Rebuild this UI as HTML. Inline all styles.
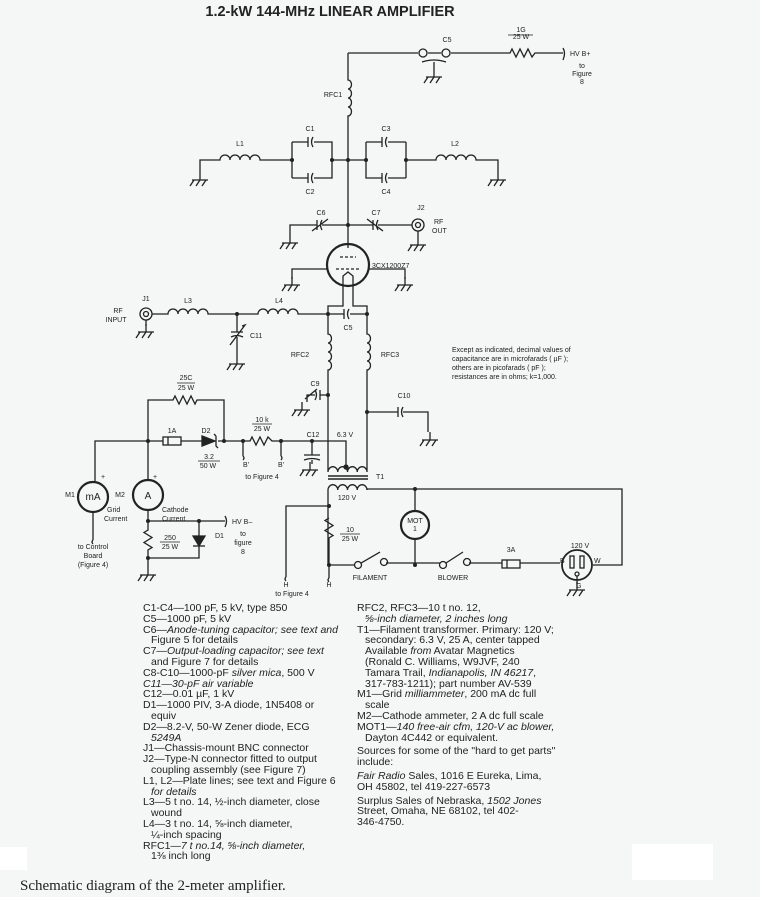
<!DOCTYPE html>
<html><head><meta charset="utf-8"><style>
html,body{margin:0;padding:0;background:#f5f6f6;}
body{width:760px;height:897px;position:relative;overflow:hidden;font-family:"Liberation Sans",sans-serif;}
svg{position:absolute;left:0;top:0}
.pl{position:absolute;font-size:10.5px;line-height:10.8px;color:#222;white-space:nowrap}
.pl div.i{padding-left:8px}
</style></head><body>
<div style="position:absolute;left:0;top:847px;width:27px;height:23px;background:#fff"></div>
<div style="position:absolute;left:632px;top:844px;width:81px;height:36px;background:#fff"></div>
<svg width="760" height="897" viewBox="0 0 760 897" font-family="Liberation Sans, sans-serif" fill="none" stroke="#222" stroke-width="1.3">
<defs>
<g id="gnd"><path d="M0 -8V0M-8 0H8M-6 0L-10 6M0 0L-4 6M6 0L2 6"/></g>
</defs>
<text x="330" y="16" text-anchor="middle" font-size="14.5" font-weight="bold" fill="#222" stroke="none">1.2-kW 144-MHz LINEAR AMPLIFIER</text>

<!-- top HV line -->
<path d="M348 53H418M428 53H441M451 53H510l2 -4l4 8l4 -8l4 8l4 -8l4 8l3 -4H563"/>
<circle cx="423" cy="53" r="4"/><circle cx="446" cy="53" r="4"/>
<path d="M422 62q12 -4 24 0M434 62V69"/>
<use href="#gnd" x="434" y="77"/>
<path d="M563 48q3 5 0 12"/>
<g fill="#222" stroke="none" font-size="7">
<text x="447" y="42" text-anchor="middle">C5</text>
<text x="521" y="32" text-anchor="middle">1G</text>
<text x="521" y="39" text-anchor="middle">25 W</text>
<text x="570" y="56">HV B+</text>
<text x="582" y="68" text-anchor="middle">to</text>
<text x="582" y="76" text-anchor="middle">Figure</text>
<text x="582" y="84" text-anchor="middle">8</text>
<text x="333" y="97" text-anchor="middle">RFC1</text>
</g>
<path d="M508 35H533" stroke-width="0.8"/>
<!-- RFC1 -->
<path d="M348 53V80a3.5 4.5 0 0 1 0 9a3.5 4.5 0 0 1 0 9a3.5 4.5 0 0 1 0 9a3.5 4.5 0 0 1 0 9V248"/>
<!-- L1/C1/C2 row -->
<path d="M200 172V160H220a5 5 0 0 1 10 0a5 5 0 0 1 10 0a5 5 0 0 1 10 0a5 5 0 0 1 10 0H292M292 142V178M406 142V178M292 142H308M314 142H332V178H314M308 178H292M366 142V178H382M388 178H406M366 142H382M388 142H406M332 160H366M406 160H436a5 5 0 0 1 10 0a5 5 0 0 1 10 0a5 5 0 0 1 10 0a5 5 0 0 1 10 0H498V172"/>
<path d="M308 137V147M313 137q-3 5 0 10M308 173V183M313 173q-3 5 0 10M382 137V147M387 137q-3 5 0 10M382 173V183M387 173q-3 5 0 10"/>
<use href="#gnd" x="200" y="180"/><use href="#gnd" x="498" y="180"/>
<g fill="#222" stroke="none"><circle cx="292" cy="160" r="2"/><circle cx="332" cy="160" r="2"/><circle cx="348" cy="160" r="2"/><circle cx="366" cy="160" r="2"/><circle cx="406" cy="160" r="2"/><circle cx="348" cy="225" r="2"/></g>
<g fill="#222" stroke="none" font-size="7">
<text x="240" y="146" text-anchor="middle">L1</text><text x="310" y="131" text-anchor="middle">C1</text><text x="310" y="194" text-anchor="middle">C2</text>
<text x="386" y="131" text-anchor="middle">C3</text><text x="386" y="194" text-anchor="middle">C4</text><text x="455" y="146" text-anchor="middle">L2</text>
<text x="321" y="215" text-anchor="middle">C6</text><text x="376" y="215" text-anchor="middle">C7</text><text x="421" y="210" text-anchor="middle">J2</text>
<text x="434" y="224">RF</text><text x="432" y="233">OUT</text>
<text x="372" y="268">3CX1200Z7</text>
</g>
<!-- C6 C7 -->
<path d="M290 235V225H317M322 225H373M378 225H412"/>
<path d="M317 220V230M322 220q-3 5 0 10M312 231L328 219M373 220V230M378 220q-3 5 0 10M367 219L383 231"/>
<use href="#gnd" x="290" y="243"/>
<circle cx="418" cy="225" r="6"/><circle cx="418" cy="225" r="2.5"/><path d="M418 231V237"/>
<use href="#gnd" x="418" y="245"/>
<!-- tube -->
<circle cx="348" cy="265" r="21" stroke-width="2.2"/>
<path d="M340 257H356M336 269H360" stroke-dasharray="3 2"/>
<path d="M292 279V269H327M369 269H405V279M343 286V276l5 -4l5 4V286"/>
<use href="#gnd" x="292" y="285"/><use href="#gnd" x="405" y="285"/>
<path d="M343 286V306H328V314M353 286V306H367V314"/>
<!-- input row -->
<circle cx="146" cy="314" r="6"/><circle cx="146" cy="314" r="2.5"/><path d="M146 320V326"/>
<use href="#gnd" x="146" y="332"/>
<path d="M152 314H168a5 5 0 0 1 10 0a5 5 0 0 1 10 0a5 5 0 0 1 10 0a5 5 0 0 1 10 0H258a5 5 0 0 1 10 0a5 5 0 0 1 10 0a5 5 0 0 1 10 0a5 5 0 0 1 10 0H344M350 314H367"/>
<path d="M344 309V319M349 309q-3 5 0 10"/>
<path d="M237 314V332M231 332H243M231 337q6 -3 12 0M237 337V356M230 345L245 325l-3 1"/>
<use href="#gnd" x="237" y="364"/>
<g fill="#222" stroke="none"><circle cx="237" cy="314" r="2"/><circle cx="328" cy="314" r="2"/><circle cx="367" cy="314" r="2"/></g>
<g fill="#222" stroke="none" font-size="7">
<text x="146" y="301" text-anchor="middle">J1</text><text x="118" y="313" text-anchor="middle">RF</text><text x="116" y="322" text-anchor="middle">INPUT</text>
<text x="188" y="303" text-anchor="middle">L3</text><text x="279" y="303" text-anchor="middle">L4</text><text x="250" y="338">C11</text>
<text x="348" y="330" text-anchor="middle">C5</text><text x="300" y="357" text-anchor="middle">RFC2</text><text x="390" y="357" text-anchor="middle">RFC3</text>
<text x="315" y="386" text-anchor="middle">C9</text><text x="404" y="398" text-anchor="middle">C10</text>
</g>
<!-- RFC2 / RFC3 -->
<path d="M328 314V334a3.5 4.5 0 0 1 0 9a3.5 4.5 0 0 1 0 9a3.5 4.5 0 0 1 0 9a3.5 4.5 0 0 1 0 9V468"/>
<path d="M367 314V334a3.5 4.5 0 0 1 0 9a3.5 4.5 0 0 1 0 9a3.5 4.5 0 0 1 0 9a3.5 4.5 0 0 1 0 9V468"/>
<path d="M328 395H320M315 395H307V402M320 390V400M315 390q3 5 0 10M305 399L317 389"/>
<use href="#gnd" x="302" y="410"/>
<path d="M367 412H398M403 412H428V432M398 407V417M403 407q-3 5 0 10"/>
<use href="#gnd" x="430" y="440"/>
<g fill="#222" stroke="none"><circle cx="328" cy="395" r="2"/><circle cx="367" cy="412" r="2"/></g>
<!-- note -->
<g fill="#222" stroke="none" font-size="7">
<text x="452" y="352">Except as indicated, decimal values of</text>
<text x="452" y="361">capacitance are in microfarads ( µF );</text>
<text x="452" y="370">others are in picofarads ( pF );</text>
<text x="452" y="379">resistances are in ohms; k=1,000.</text>
</g>
<!-- transformer -->
<path d="M328 468V472M328 472a4.6 5 0 0 1 9.75 0a4.6 5 0 0 1 9.75 0a4.6 5 0 0 1 9.75 0a4.6 5 0 0 1 9.75 0V468"/>
<path d="M328 476H368M328 479H368" stroke-width="1.6"/>
<path d="M328 490a4.6 5 0 0 1 9.75 0a4.6 5 0 0 1 9.75 0a4.6 5 0 0 1 9.75 0a4.6 5 0 0 1 9.75 0"/>
<path d="M312 441H346V467"/>
<circle cx="346" cy="467" r="2" fill="#222"/>
<g fill="#222" stroke="none" font-size="7">
<text x="376" y="479">T1</text><text x="347" y="500" text-anchor="middle">120 V</text><text x="345" y="437" text-anchor="middle">6.3 V</text>
<text x="313" y="437" text-anchor="middle">C12</text>
</g>
<!-- grid row -->
<path d="M95 481V441H163M181 441H202M218 441H250l2 -4l4 8l4 -8l4 8l4 -8l4 4H312"/>
<rect x="163" y="437" width="18" height="8"/><path d="M168 437V445"/>
<path d="M202 436V446L215 441Z" fill="#222"/><path d="M216 436V446l2 2M216 436l-2 -2"/>
<path d="M148 441V400H173l2 -4l4 8l4 -8l4 8l4 -8l4 8l2 -4H224V441"/>
<path d="M243 441V456M281 441V456M243 456q2 2 0 4M281 456q2 2 0 4"/>
<path d="M312 441V455M304 455H320M304 460q8 -3 16 0M312 460V464"/>
<use href="#gnd" x="310" y="470"/>
<g fill="#222" stroke="none"><circle cx="148" cy="441" r="2"/><circle cx="224" cy="441" r="2"/><circle cx="243" cy="441" r="2"/><circle cx="281" cy="441" r="2"/><circle cx="312" cy="441" r="2"/></g>
<g fill="#222" stroke="none" font-size="7">
<text x="186" y="380" text-anchor="middle">25C</text><text x="186" y="390" text-anchor="middle">25 W</text>
<text x="172" y="433" text-anchor="middle">1A</text><text x="206" y="433" text-anchor="middle">D2</text>
<text x="209" y="459" text-anchor="middle">3.2</text><text x="208" y="468" text-anchor="middle">50 W</text>
<text x="262" y="422" text-anchor="middle">10 k</text><text x="262" y="431" text-anchor="middle">25 W</text>
<text x="246" y="467" text-anchor="middle">B'</text><text x="281" y="467" text-anchor="middle">B'</text>
<text x="262" y="479" text-anchor="middle">to Figure 4</text>
</g>
<path d="M177 383H195M198 461H220M252 424H272" stroke-width="0.8"/>
<!-- meters -->
<circle cx="93" cy="497" r="15" stroke-width="2.2"/><circle cx="148" cy="495" r="15" stroke-width="2.2"/>
<path d="M148 441V480M93 512V540M148 510V530l-4 2.5l8 5l-8 5l8 5l-4 2.5V567M148 521H225M225 516q3 5 0 11M199 521V558H148"/>
<path d="M193 536H205L199 546Z" fill="#222"/><path d="M193 546H205"/>
<path d="M93 540q-2 2 0 4"/>
<use href="#gnd" x="148" y="575"/>
<g fill="#222" stroke="none"><circle cx="148" cy="521" r="2"/><circle cx="199" cy="521" r="2"/><circle cx="148" cy="558" r="2"/></g>
<g fill="#222" stroke="none" font-size="7">
<text x="93" y="500" text-anchor="middle" font-size="10">mA</text><text x="148" y="499" text-anchor="middle" font-size="10">A</text>
<text x="70" y="497" text-anchor="middle">M1</text><text x="120" y="497" text-anchor="middle">M2</text>
<text x="101" y="479">+</text><text x="153" y="479">+</text>
<text x="107" y="512">Grid</text><text x="104" y="521">Current</text>
<text x="162" y="512">Cathode</text><text x="162" y="521">Current</text>
<text x="232" y="524">HV B–</text><text x="215" y="538">D1</text>
<text x="243" y="536" text-anchor="middle">to</text><text x="243" y="545" text-anchor="middle">figure</text><text x="243" y="554" text-anchor="middle">8</text>
<text x="170" y="540" text-anchor="middle">250</text><text x="170" y="549" text-anchor="middle">25 W</text>
<text x="93" y="549" text-anchor="middle">to Control</text><text x="93" y="558" text-anchor="middle">Board</text><text x="93" y="567" text-anchor="middle">(Figure 4)</text>
</g>
<path d="M160 542H180" stroke-width="0.8"/>
<!-- AC section -->
<path d="M367 490V489H622V565H593M328 490V565H355M386 563H440M469 563H502M520 563H560M415 489V511M415 539V565M329 506H286V577M329 518l-4 2.5l8 5l-8 5l8 5l-4 2.5V565M329 565V578"/>
<circle cx="358" cy="565" r="3.5"/><circle cx="384" cy="562" r="3.5"/><path d="M361 563L380 552"/>
<circle cx="443" cy="565" r="3.5"/><circle cx="467" cy="562" r="3.5"/><path d="M446 563L463 552"/>
<rect x="502" y="560" width="18" height="8"/><path d="M507 560V568"/>
<circle cx="415" cy="525" r="14" stroke-width="2.2"/>
<circle cx="577" cy="565" r="15" stroke-width="1.8"/><rect x="570" y="556" width="4" height="12"/><rect x="580" y="556" width="4" height="12"/><circle cx="577" cy="574" r="2"/>
<path d="M577 576V584"/><use href="#gnd" x="577" y="590"/>
<path d="M286 577q-2 2 0 4M329 578q-2 2 0 4"/>
<g fill="#222" stroke="none"><circle cx="415" cy="489" r="2"/><circle cx="329" cy="506" r="2"/><circle cx="329" cy="565" r="2"/><circle cx="415" cy="565" r="2"/></g>
<g fill="#222" stroke="none" font-size="7">
<text x="415" y="523" text-anchor="middle">MOT</text><text x="415" y="531" text-anchor="middle">1</text>
<text x="350" y="532" text-anchor="middle">10</text><text x="350" y="541" text-anchor="middle">25 W</text>
<text x="370" y="580" text-anchor="middle">FILAMENT</text><text x="453" y="580" text-anchor="middle">BLOWER</text>
<text x="511" y="552" text-anchor="middle">3A</text><text x="580" y="548" text-anchor="middle">120 V</text>
<text x="560" y="563">B</text><text x="594" y="563">W</text><text x="576" y="588">G</text>
<text x="286" y="587" text-anchor="middle">H</text><text x="329" y="587" text-anchor="middle">H</text>
<text x="292" y="596" text-anchor="middle">to Figure 4</text>
</g>
<path d="M340 534H360" stroke-width="0.8"/>
<text x="20" y="890" font-family="Liberation Serif, serif" font-size="15" fill="#222" stroke="none">Schematic diagram of the 2-meter amplifier.</text>
</svg>
<div class="pl" style="left:143px;top:603px">
<div>C1-C4—100 pF, 5 kV, type 850</div>
<div>C5—1000 pF, 5 kV</div>
<div>C6—<i>Anode-tuning capacitor; see text and</i></div>
<div class="i">Figure 5 for details</div>
<div>C7—<i>Output-loading capacitor; see text</i></div>
<div class="i">and Figure 7 for details</div>
<div>C8-C10—1000-pF <i>silver mica</i>, 500 V</div>
<div><i>C11—30-pF air variable</i></div>
<div>C12—0.01 µF, 1 kV</div>
<div>D1—1000 PIV, 3-A diode, 1N5408 or</div>
<div class="i">equiv</div>
<div>D2—8.2-V, 50-W Zener diode, ECG</div>
<div class="i"><i>5249A</i></div>
<div>J1—Chassis-mount BNC connector</div>
<div>J2—Type-N connector fitted to output</div>
<div class="i">coupling assembly (see Figure 7)</div>
<div>L1, L2—Plate lines; see text and Figure 6</div>
<div class="i"><i>for details</i></div>
<div>L3—5 t no. 14, ½-inch diameter, close</div>
<div class="i">wound</div>
<div>L4—3 t no. 14, ⅝-inch diameter,</div>
<div class="i">¼-inch spacing</div>
<div>RFC1—<i>7 t no.14, ⅝-inch diameter,</i></div>
<div class="i">1⅜ inch long</div>
</div>
<div class="pl" style="left:357px;top:603px">
<div>RFC2, RFC3—10 t no. 12,</div>
<div class="i"><i>⅝-inch diameter, 2 inches long</i></div>
<div>T1—Filament transformer. Primary: 120 V;</div>
<div class="i">secondary: 6.3 V, 25 A, center tapped</div>
<div class="i">Available <i>from</i> Avatar Magnetics</div>
<div class="i">(Ronald C. Williams, W9JVF, 240</div>
<div class="i">Tamara Trail, <i>Indianapolis, IN 46217</i>,</div>
<div class="i">317-783-1211); part number AV-539</div>
<div>M1—Grid <i>milliammeter</i>, 200 mA dc full</div>
<div class="i">scale</div>
<div>M2—Cathode ammeter, 2 A dc full scale</div>
<div>MOT1—<i>140 free-air cfm, 120-V ac blower,</i></div>
<div class="i">Dayton 4C442 or equivalent.</div>
<div style="margin-top:3px">Sources for some of the "hard to get parts"</div>
<div>include:</div>
<div style="margin-top:3px"><i>Fair Radio</i> Sales, 1016 E Eureka, Lima,</div>
<div>OH 45802, tel 419-227-6573</div>
<div style="margin-top:3px">Surplus Sales of Nebraska, <i>1502 Jones</i></div>
<div>Street, Omaha, NE 68102, tel 402-</div>
<div>346-4750.</div>
</div>
</body></html>
